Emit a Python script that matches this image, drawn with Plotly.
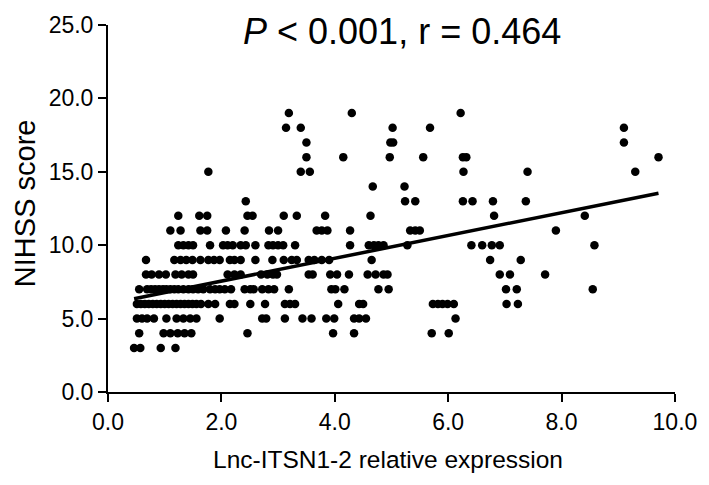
import numpy as np
import plotly.graph_objects as go

# Lnc-ITSN1-2 relative expression of each patient, grouped by NIHSS score
expr_nihss_3 = [0.46, 0.57, 0.93, 1.19]
expr_nihss_4 = [0.55, 0.98, 1.10, 1.23, 1.35, 1.47, 2.46, 3.97, 4.34, 5.71, 6.01]
expr_nihss_5 = [0.51, 0.60, 0.69, 0.81, 1.03, 1.21, 1.33, 1.45, 1.56, 1.97, 2.72,
                2.79, 3.12, 3.43, 3.59, 3.85, 3.99, 4.34, 4.43, 4.55, 6.13]
expr_nihss_6 = [0.51, 0.58, 0.65, 0.72, 0.79, 0.86, 0.93, 1.00, 1.07, 1.14, 1.21,
                1.28, 1.35, 1.42, 1.49, 1.56, 1.64, 1.77, 1.89, 2.15, 2.23, 2.51,
                2.77, 3.12, 3.21, 3.30, 4.06, 4.43, 4.50, 5.73, 5.82, 5.90, 5.99,
                6.10, 7.03, 7.23]
expr_nihss_7 = [0.55, 0.69, 0.76, 0.83, 0.90, 0.97, 1.03, 1.10, 1.17, 1.24, 1.33,
                1.42, 1.50, 1.59, 1.68, 1.80, 1.89, 1.97, 2.06, 2.17, 2.41, 2.51,
                2.57, 2.72, 2.83, 2.93, 3.19, 3.94, 4.01, 4.17, 4.77, 4.95, 7.02,
                7.21, 8.55]
expr_nihss_8 = [0.67, 0.77, 0.90, 1.02, 1.19, 1.30, 1.42, 1.50, 2.11, 2.23, 2.34,
                2.70, 2.81, 2.91, 2.98, 3.54, 3.61, 3.92, 4.04, 4.25, 4.58, 4.72,
                4.86, 4.93, 6.91, 7.09, 7.71]
expr_nihss_9 = [0.67, 1.17, 1.28, 1.38, 1.49, 1.63, 1.77, 1.87, 1.97, 2.15, 2.23,
                2.34, 2.60, 2.90, 3.10, 3.24, 3.33, 3.54, 3.64, 3.77, 3.90, 4.65,
                6.74, 7.28]
expr_nihss_10 = [1.24, 1.33, 1.42, 1.50, 1.80, 2.03, 2.11, 2.20, 2.34, 2.43, 2.60,
                 2.83, 2.91, 3.00, 3.09, 3.30, 4.27, 4.60, 4.69, 4.77, 4.86, 5.28,
                 6.41, 6.60, 6.77, 6.91, 8.58]
expr_nihss_11 = [1.10, 1.28, 1.63, 1.75, 2.08, 2.41, 2.84, 3.00, 3.68, 3.77, 3.87,
                 4.27, 5.33, 5.42, 5.50, 7.90]
expr_nihss_12 = [1.24, 1.61, 1.75, 2.46, 2.55, 3.10, 3.33, 3.83, 4.63, 6.81, 8.41]
expr_nihss_13 = [2.43, 5.24, 5.42, 6.26, 6.43, 6.79, 7.37]
expr_nihss_14 = [4.67, 5.23]
expr_nihss_15 = [1.77, 3.40, 3.56, 6.27, 7.40, 9.30]
expr_nihss_16 = [3.50, 4.15, 4.97, 5.56, 6.26, 6.32, 9.71]
expr_nihss_17 = [3.50, 4.98, 5.03, 9.10]
expr_nihss_18 = [3.14, 3.40, 5.02, 5.68, 9.10]
expr_nihss_19 = [3.19, 4.30, 6.22]

# regression line as drawn in the figure
fit_intercept = 6.0
fit_slope = 0.777

groups = [
    (3, expr_nihss_3), (4, expr_nihss_4), (5, expr_nihss_5), (6, expr_nihss_6),
    (7, expr_nihss_7), (8, expr_nihss_8), (9, expr_nihss_9), (10, expr_nihss_10),
    (11, expr_nihss_11), (12, expr_nihss_12), (13, expr_nihss_13),
    (14, expr_nihss_14), (15, expr_nihss_15), (16, expr_nihss_16),
    (17, expr_nihss_17), (18, expr_nihss_18), (19, expr_nihss_19),
]

x = np.array([v for _, xs in groups for v in xs])
y = np.array([s for s, xs in groups for _ in xs], dtype=float)

x_fit = np.array([x.min(), x.max()])
y_fit = fit_slope * x_fit + fit_intercept

FONT = "Liberation Sans, Arial, sans-serif"

fig = go.Figure()
fig.add_trace(go.Scatter(
    x=x, y=y, mode="markers",
    marker=dict(size=8.5, color="black"),
    showlegend=False
))
fig.add_trace(go.Scatter(
    x=x_fit, y=y_fit, mode="lines",
    line=dict(width=3.5, color="black"),
    showlegend=False
))

axis_style = dict(
    showgrid=False,
    zeroline=False,
    showline=True,
    linewidth=2,
    linecolor="black",
    ticks="outside",
    ticklen=8,
    tickwidth=2,
    tickcolor="black",
    tickformat=".1f",
    ticklabeloverflow="allow",
    tickfont=dict(size=23, color="black", family=FONT),
)

fig.update_layout(
    width=709,
    height=485,
    plot_bgcolor="white",
    paper_bgcolor="white",
    font=dict(family=FONT, color="black"),
    margin=dict(l=108, r=26, t=12, b=93),
    xaxis=dict(range=[0, 10.001], dtick=2, **axis_style),
    yaxis=dict(range=[0, 25.001], dtick=5, **axis_style),
    annotations=[
        dict(text="<i>P</i> &lt; 0.001, r = 0.464", xref="paper", yref="paper",
             x=0.519, y=0.983, showarrow=False, font=dict(size=36),
             xanchor="center", yanchor="middle"),
        dict(text="Lnc-ITSN1-2 relative expression", xref="paper", yref="paper",
             x=0.493, y=-0.184, showarrow=False, font=dict(size=24.5),
             xanchor="center", yanchor="middle"),
        dict(text="NIHSS score", xref="paper", yref="paper",
             x=-0.145, y=0.514, showarrow=False, font=dict(size=29),
             textangle=-90, xanchor="center", yanchor="middle"),
    ],
)

fig.write_html("out.html", config={"displayModeBar": False},
               post_script="document.body.style.margin='0px';")
